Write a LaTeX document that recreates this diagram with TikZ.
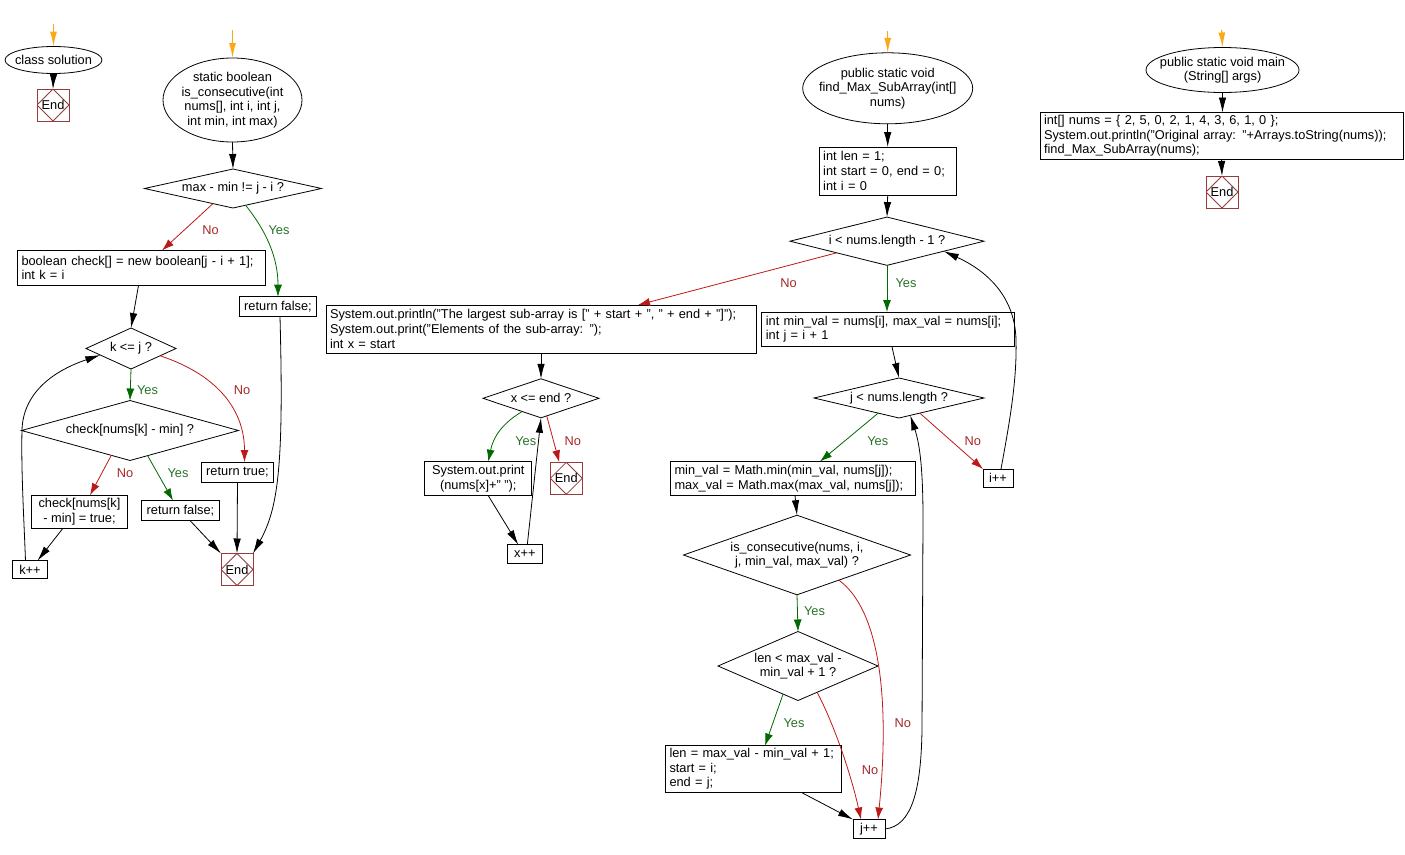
\documentclass[tikz,border=0pt]{standalone}
\usepackage{fontspec}
\setmainfont{Liberation Sans}
\usetikzlibrary{shapes.geometric,arrows.meta}
\definecolor{noc}{RGB}{190,25,25}
\definecolor{nol}{RGB}{165,40,40}
\definecolor{yesc}{RGB}{0,105,0}
\definecolor{yesl}{RGB}{40,115,40}
\definecolor{endc}{RGB}{150,60,60}
\definecolor{startc}{RGB}{250,170,20}
\begin{document}
\begin{tikzpicture}[x=1pt,y=-1pt,
  every node/.style={font=\fontsize{12.8}{14.6}\selectfont, outer sep=0pt},
  ell/.style={draw, ellipse, line width=0.8pt, inner sep=-20pt, align=center},
  dia/.style={draw, diamond, line width=0.8pt, inner sep=-20pt, align=center},
  lbox/.style={draw, rectangle, line width=0.9pt, inner xsep=4pt, inner ysep=0pt, align=left},
  cbox/.style={draw, rectangle, line width=0.9pt, inner sep=0pt, align=center},
  endbox/.style={draw=endc, line width=0.9pt, minimum width=32pt, minimum height=32pt, inner sep=0pt,
    path picture={\draw[endc, line width=0.8pt] (path picture bounding box.north) -- (path picture bounding box.east) -- (path picture bounding box.south) -- (path picture bounding box.west) -- cycle;}},
  arr/.style={line width=0.8pt, -{Latex[length=15pt,width=7.5pt]}},
  noarr/.style={line width=0.8pt, draw=noc, -{Latex[length=12pt,width=8pt]}},
  yesarr/.style={line width=0.8pt, draw=yesc, -{Latex[length=12pt,width=8pt]}},
  startarr/.style={line width=1.2pt, draw=startc, -{Latex[length=15pt,width=7pt]}},
  nolbl/.style={text=nol, inner sep=0pt},
  yeslbl/.style={text=yesl, inner sep=0pt}
]
\fill[white] (0,0) rectangle (1405,854);
\useasboundingbox (0,0) rectangle (1405,854);

% ---------- column 1 ----------
\coordinate (o1) at (53.5,24);
\node[ell, minimum width=97, minimum height=27] (cs) at (53.5,60) {class solution};
\node[endbox] (e1) at (53,105) {End};
\draw[startarr] (o1) -- (cs.north);
\draw[arr] (cs.south) -- (e1.north);

% ---------- column 2 ----------
\coordinate (o2) at (232.5,30);
\node[ell, minimum width=139, minimum height=84] (s2) at (232.5,100) {static boolean\\is\_consecutive(int\\nums[], int i, int j,\\int min, int max)};
\node[dia, minimum width=177, minimum height=39] (d1) at (233,188.5) {max - min != j - i ?};
\node[lbox, minimum width=248, minimum height=35, text width=240] (b1) at (141.5,268) {boolean check[] = new boolean[j - i + 1];\\int k = i};
\node[cbox, minimum width=77, minimum height=20] (rf1) at (278,306.7) {return false;};
\node[dia, minimum width=90, minimum height=41] (d2) at (131,348.5) {k <= j ?};
\node[dia, minimum width=217, minimum height=39] (d3) at (130,430.5) {check[nums[k] - min] ?};
\node[cbox, minimum width=72, minimum height=20] (rt) at (237.5,472) {return true;};
\node[cbox, minimum width=96, minimum height=33] (cb) at (79.5,511.7) {check[nums[k]\\- min] = true;};
\node[cbox, minimum width=78, minimum height=20] (rf2) at (180.5,510.5) {return false;};
\node[cbox, minimum width=35, minimum height=18] (kpp) at (30,569.7) {k++};
\node[endbox] (e2) at (237,569.5) {End};

\draw[startarr] (o2) -- (s2.north);
\draw[arr] (s2.south) -- (d1.north);
\draw[noarr] (d1.-143) -- ([xshift=20.5pt]b1.north);
\draw[yesarr] (d1.-53) .. controls +(20,25) and +(0,-40) .. (rf1.north);
\draw[arr] ([xshift=-3pt]b1.south) -- (d2.north);
\draw[yesarr] (d2.south) -- (d3.north);
\draw[noarr] (d2.-14) .. controls +(60,20) and +(0,-50) .. ([xshift=7pt]rt.north);
\draw[noarr] (d3.-127) -- ([xshift=10.5pt]cb.north);
\draw[yesarr] (d3.-55) -- ([xshift=-7.5pt]rf2.north);
\draw[arr] ([xshift=-16.5pt]cb.south) -- ([xshift=7.5pt]kpp.north);
\draw[arr] ([xshift=-4.5pt]kpp.north) .. controls (24,520) and (21,470) .. (22,430) .. controls (23,395) and (50,372) .. (d2.-168);
\draw[arr] ([xshift=9.5pt]rf2.south) -- (e2.north west);
\draw[arr] (rt.south) -- (e2.north);
\draw[arr] ([xshift=2pt]rf1.south) .. controls +(4,150) and +(25,-45) .. (e2.north east);

\node[nolbl] (l1) at (210.5,230.5) {No};
\node[yeslbl] (l2) at (279,230.5) {Yes};
\node[yeslbl] (l3) at (147.5,390) {Yes};
\node[nolbl] (l4) at (242,390) {No};
\node[nolbl] (l5) at (125,473) {No};
\node[yeslbl] (l6) at (178,473) {Yes};

% ---------- column 3 ----------
\coordinate (o3) at (887.7,31);
\node[ell, minimum width=170, minimum height=71] (f) at (887.7,88.3) {public static void\\find\_Max\_SubArray(int[]\\nums)};
\node[lbox, minimum width=137, minimum height=48, text width=129] (b2) at (887.7,171) {int len = 1;\\int start = 0, end = 0;\\int i = 0};
\node[dia, minimum width=194, minimum height=39] (d4) at (887,241.2) {i < nums.length - 1 ?};
\node[lbox, minimum width=253, minimum height=34, text width=245] (bmv) at (888.3,329) {int min\_val = nums[i], max\_val = nums[i];\\int j = i + 1};
\node[lbox, minimum width=430, minimum height=48, text width=422] (bp) at (541,329) {System.out.println("The largest sub-array is [" + start + ", " + end + "]");\\System.out.print("Elements of the sub-array: ");\\int x = start};
\node[dia, minimum width=116, minimum height=39] (d5) at (541,398.3) {x <= end ?};
\node[cbox, minimum width=107, minimum height=34] (sp) at (478.3,478.7) {System.out.print\\(nums[x]+" ");};
\node[endbox] (e3) at (566.3,478.3) {End};
\node[cbox, minimum width=35, minimum height=18.5] (xpp) at (524.8,554) {x++};
\node[dia, minimum width=170, minimum height=40] (d6) at (899,398) {j < nums.length ?};
\node[lbox, minimum width=245, minimum height=34, text width=237] (bmm) at (793,478.5) {min\_val = Math.min(min\_val, nums[j]);\\max\_val = Math.max(max\_val, nums[j]);};
\node[cbox, minimum width=30, minimum height=18] (ipp) at (998,478) {i++};
\node[dia, minimum width=227, minimum height=69] (d7) at (797,555) {is\_consecutive(nums, i,\\j, min\_val, max\_val) ?};
\node[dia, minimum width=160, minimum height=69] (d8) at (798,666) {len < max\_val -\\min\_val + 1 ?};
\node[lbox, minimum width=176, minimum height=47, text width=168] (blen) at (753.5,769) {len = max\_val - min\_val + 1;\\start = i;\\end = j;};
\node[cbox, minimum width=32, minimum height=19] (jpp) at (869,829) {j++};

\draw[startarr] (o3) -- (f.north);
\draw[arr] (f.south) -- (b2.north);
\draw[arr] (b2.south) -- (d4.north);
\draw[noarr] (d4.-167) -- ([xshift=97pt]bp.north);
\draw[yesarr] (d4.south) -- ([xshift=-1.3pt]bmv.north);
\draw[arr] (bp.south) -- (d5.north);
\draw[yesarr] (d5.-145) .. controls +(-20,12) and +(5,-25) .. ([xshift=10pt]sp.north);
\draw[noarr] (d5.-72) -- ([xshift=-7pt]e3.north);
\draw[arr] ([xshift=10pt]sp.south) -- ([xshift=-6.5pt]xpp.north);
\draw[arr] ([xshift=2.5pt]xpp.north) -- (d5.south);
\draw[arr] ([xshift=3.5pt]bmv.south) -- (d6.north);
\draw[yesarr] (d6.-144) -- ([xshift=27pt]bmm.north);
\draw[noarr] (d6.-36) -- (ipp.north west);
\draw[arr] ([xshift=3pt]ipp.north) .. controls (1010,420) and (1017,380) .. (1016,340) .. controls (1015,295) and (985,270) .. (d4.-10);
\draw[arr] ([xshift=2pt]bmm.south) -- (d7.north);
\draw[yesarr] (d7.south) -- (d8.north);
\draw[noarr] (d7.-31) .. controls (880,610) and (890,700) .. ([xshift=9pt]jpp.north);
\draw[yesarr] (d8.-118) -- ([xshift=11.5pt]blen.north);
\draw[noarr] (d8.-54) .. controls (832,720) and (850,770) .. ([xshift=-8pt]jpp.north);
\draw[arr] ([xshift=48pt]blen.south) -- (jpp.north west);
\draw[arr] (jpp.east) .. controls (912,826) and (921,790) .. (922,730) -- (923,520) .. controls (923,470) and (920,445) .. (d6.-57);

\node[nolbl] (l7) at (788.5,283) {No};
\node[yeslbl] (l8) at (906,283) {Yes};
\node[yeslbl] (l9) at (525.7,441.5) {Yes};
\node[nolbl] (l10) at (572.7,441.5) {No};
\node[yeslbl] (l11) at (877.7,441) {Yes};
\node[nolbl] (l12) at (972.7,441) {No};
\node[yeslbl] (l13) at (814.5,611) {Yes};
\node[nolbl] (l14) at (902.7,723) {No};
\node[yeslbl] (l15) at (794,723) {Yes};
\node[nolbl] (l16) at (870,770.5) {No};

% ---------- column 4 ----------
\coordinate (o4) at (1221.7,30);
\node[ell, minimum width=153, minimum height=45] (m) at (1222.5,70) {public static void main\\(String[] args)};
\node[lbox, minimum width=363, minimum height=47, text width=355] (bm) at (1221.5,136) {int[] nums = \{ 2, 5, 0, 2, 1, 4, 3, 6, 1, 0 \};\\System.out.println("Original array: "+Arrays.toString(nums));\\find\_Max\_SubArray(nums);};
\node[endbox] (e4) at (1222,192) {End};

\draw[startarr] (o4) -- (m.north);
\draw[arr] (m.south) -- (m.south |- bm.north);
\draw[arr] (bm.south) -- (e4.north);
\end{tikzpicture}
\end{document}
